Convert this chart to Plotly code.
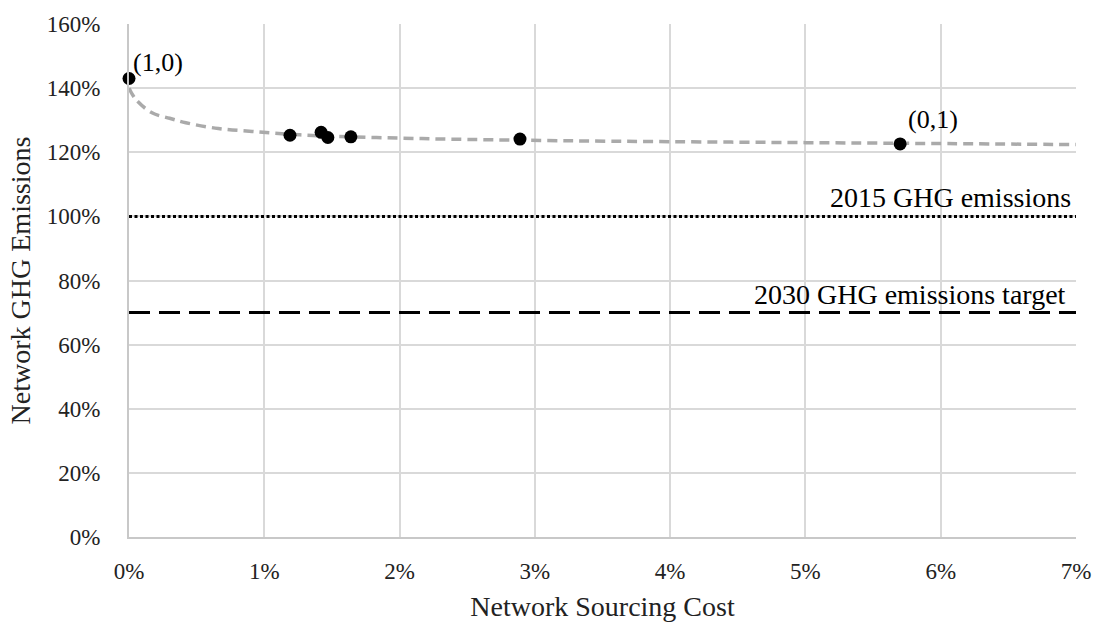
import plotly.graph_objects as go

# Pareto points (network sourcing cost %, network GHG emissions %)
cost_pct = [0.0, 1.19, 1.42, 1.47, 1.64, 2.89, 5.70]
ghg_pct = [143.0, 125.3, 126.2, 124.6, 124.8, 124.1, 122.6]
point_labels = ["(1,0)", "", "", "", "", "", "(0,1)"]

# Trendline
trend_x = [0.0, 0.05, 0.17, 0.3, 0.42, 0.66, 0.91, 1.19, 1.5, 2.0, 2.5, 3.18, 4.0, 5.0, 5.69, 7.0]
trend_y = [140.0, 136.5, 132.3, 130.6, 129.2, 127.4, 126.5, 125.6, 125.0, 124.4, 124.0, 123.6, 123.3, 123.0, 122.8, 122.4]

# Reference levels
level_2015 = 100
level_2030 = 70
level_2015_label = "2015 GHG emissions"
level_2030_label = "2030 GHG emissions target"

x_range = [0, 7]
y_range = [0, 160]

FONT = "Liberation Serif"
fs_tick = 23
fs_text = 28

fig = go.Figure()

fig.add_trace(go.Scatter(
    x=[x_range[0], x_range[1]], y=[level_2015, level_2015], mode="lines",
    line=dict(color="black", width=3, dash="3px,2.5px"), hoverinfo="skip", showlegend=False))
fig.add_trace(go.Scatter(
    x=[x_range[0], x_range[1]], y=[level_2030, level_2030], mode="lines",
    line=dict(color="black", width=3, dash="21px,9px"), hoverinfo="skip", showlegend=False))

fig.add_trace(go.Scatter(
    x=trend_x, y=trend_y, mode="lines", line_shape="spline",
    line=dict(color="#aaaaaa", width=3.5, dash="10px,6px"), showlegend=False))

fig.add_trace(go.Scatter(
    x=cost_pct, y=ghg_pct, mode="markers",
    marker=dict(color="black", size=13), cliponaxis=False, showlegend=False))

label_shifts = {"(1,0)": (2, 0), "(0,1)": (6, 8)}
for x, y, t in zip(cost_pct, ghg_pct, point_labels):
    if t:
        dx, dy = label_shifts[t]
        fig.add_annotation(x=x, y=y, text=t, showarrow=False, xanchor="left", yanchor="bottom",
                           xshift=dx, yshift=dy, font=dict(family=FONT, size=26, color="black"))

fig.add_annotation(x=1, xref="paper", y=level_2015, text=level_2015_label, showarrow=False,
                   xanchor="right", yanchor="bottom", xshift=-3, yshift=1,
                   font=dict(family=FONT, size=fs_text, color="black"))
fig.add_annotation(x=1, xref="paper", y=level_2030, text=level_2030_label, showarrow=False,
                   xanchor="right", yanchor="bottom", xshift=-8, yshift=1,
                   font=dict(family=FONT, size=fs_text, color="black"))

fig.update_layout(
    width=1103, height=629,
    margin=dict(l=129, r=23, t=19, b=90),
    plot_bgcolor="white", paper_bgcolor="white",
    font=dict(family=FONT, size=fs_tick, color="#222222"),
    xaxis=dict(range=x_range, dtick=1, ticksuffix="%", showgrid=True, gridcolor="#d9d9d9", gridwidth=2,
               zeroline=False, showline=True, linecolor="#c8c8c8", linewidth=2,
               ticks="", ticklabelstandoff=12,
               title=dict(text="Network Sourcing Cost", standoff=14, font=dict(size=fs_text))),
    yaxis=dict(range=y_range, dtick=20, ticksuffix="%", showgrid=True, gridcolor="#d9d9d9", gridwidth=2,
               zeroline=False, showline=True, linecolor="#c8c8c8", linewidth=2,
               ticks="", ticklabelstandoff=22,
               title=dict(text="Network GHG Emissions", standoff=8, font=dict(size=fs_text))),
)

fig.write_html("out.html", config={"displayModeBar": False},
               post_script="document.body.style.margin='0';")
